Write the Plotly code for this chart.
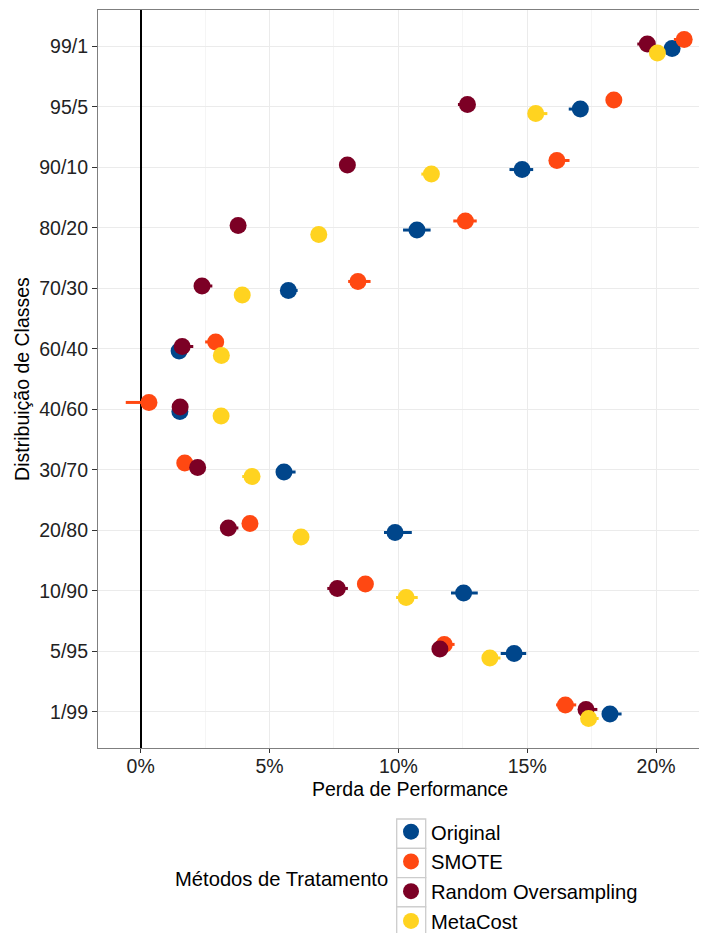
import plotly.graph_objects as go

# ---------------- data ----------------
categories = ["99/1", "95/5", "90/10", "80/20", "70/30", "60/40",
              "40/60", "30/70", "20/80", "10/90", "5/95", "1/99"]
methods = ["Original", "SMOTE", "Random Oversampling", "MetaCost"]

original = [20.62, 17.06, 14.80, 10.72, 5.73, 1.49, 1.52, 5.56, 9.87, 12.53, 14.49, 18.21]
smote = [21.09, 18.36, 16.15, 12.60, 8.43, 2.91, 0.32, 1.71, 4.24, 8.72, 11.78, 16.48]
random_os = [19.66, 12.68, 8.02, 3.78, 2.38, 1.61, 1.53, 2.21, 3.40, 7.63, 11.61, 17.28]
metacost = [20.05, 15.33, 11.28, 6.91, 3.94, 3.13, 3.12, 4.32, 6.22, 10.30, 13.55, 17.38]

original_lo = [0.20, 0.45, 0.49, 0.54, 0.20, 0.20, 0.20, 0.20, 0.43, 0.49, 0.52, 0.20]
original_hi = [0.20, 0.25, 0.43, 0.53, 0.36, 0.20, 0.20, 0.45, 0.65, 0.55, 0.47, 0.45]
smote_lo = [0.40, 0.20, 0.20, 0.47, 0.38, 0.41, 0.90, 0.20, 0.20, 0.20, 0.20, 0.36]
smote_hi = [0.20, 0.20, 0.49, 0.44, 0.49, 0.20, 0.20, 0.20, 0.20, 0.20, 0.40, 0.42]
random_lo = [0.39, 0.37, 0.20, 0.20, 0.20, 0.20, 0.20, 0.20, 0.20, 0.39, 0.20, 0.20]
random_hi = [0.20, 0.20, 0.20, 0.20, 0.40, 0.43, 0.20, 0.20, 0.39, 0.41, 0.20, 0.44]
metacost_lo = [0.20, 0.20, 0.39, 0.20, 0.20, 0.20, 0.20, 0.38, 0.20, 0.39, 0.20, 0.20]
metacost_hi = [0.20, 0.45, 0.20, 0.20, 0.20, 0.20, 0.20, 0.20, 0.20, 0.45, 0.41, 0.39]

x_ticks = [0, 5, 10, 15, 20]

# ---------------- styling ----------------
colors = {"Original": "#00468B", "SMOTE": "#FF4812",
          "Random Oversampling": "#7C0025", "MetaCost": "#FFD320"}
values = {"Original": original, "SMOTE": smote,
          "Random Oversampling": random_os, "MetaCost": metacost}
lows = {"Original": original_lo, "SMOTE": smote_lo,
        "Random Oversampling": random_lo, "MetaCost": metacost_lo}
highs = {"Original": original_hi, "SMOTE": smote_hi,
         "Random Oversampling": random_hi, "MetaCost": metacost_hi}
# dodge order (alphabetical factor levels, first at the bottom)
dodge_rank = {"MetaCost": 0, "Original": 1, "Random Oversampling": 2, "SMOTE": 3}
dodge_step = 0.075

FONT = "Liberation Sans, Arial, Helvetica, sans-serif"
FS = 19.5
FS_LEG = 20.2

OFF = 8  # default page body margin
W, H = 707 - OFF, 933 - OFF
ML, MR, MT, MB = 98 - OFF, 0, 10 - OFF, 185
plot_w = W - ML - MR
plot_h = H - MT - MB


def px_x(p):  # window pixel -> paper x
    return (p - OFF - ML) / plot_w


def px_y(p):  # window pixel -> paper y
    return (H - MB - (p - OFF)) / plot_h


fig = go.Figure()
idx = list(range(len(categories)))
for m in methods:
    off = (1.5 - dodge_rank[m]) * dodge_step
    fig.add_trace(go.Scatter(
        x=values[m],
        y=[i + off for i in idx],
        mode="markers",
        name=m,
        legendgroup=m,
        marker=dict(color=colors[m], size=17, line=dict(width=0)),
        error_x=dict(type="data", symmetric=False, array=highs[m],
                     arrayminus=lows[m], color=colors[m], thickness=3, width=0),
    ))

# legend key boxes
box_top = 819.0
box_h = 29.3
for k in range(len(methods)):
    fig.add_shape(type="rect", xref="paper", yref="paper",
                  x0=px_x(396.7), x1=px_x(425.7),
                  y0=px_y(box_top + k * box_h), y1=px_y(box_top + (k + 1) * box_h),
                  line=dict(color="#CCCCCC", width=1.3), fillcolor="white", layer="below")

fig.add_annotation(text="Métodos de Tratamento", xref="paper", yref="paper",
                   x=px_x(390), y=px_y(879), xanchor="right", yanchor="middle",
                   showarrow=False, font=dict(family=FONT, size=FS_LEG, color="#000000"))
fig.add_annotation(text="Perda de Performance", xref="paper", yref="paper",
                   x=px_x(410), y=px_y(789), xanchor="center", yanchor="middle",
                   showarrow=False, font=dict(family=FONT, size=FS, color="#000000"))

x_per_px = 1 / 25.77
x0_px = 140.7
x_range = [(98 - x0_px) * x_per_px, (707 - x0_px) * x_per_px]

fig.update_layout(
    width=W, height=H,
    margin=dict(l=ML, r=MR, t=MT, b=MB, pad=0, autoexpand=False),
    paper_bgcolor="white", plot_bgcolor="white",
    font=dict(family=FONT, size=FS, color="#000000"),
    showlegend=True,
    legend=dict(x=px_x(391), y=px_y(812), xanchor="left", yanchor="top",
                bgcolor="rgba(0,0,0,0)", font=dict(family=FONT, size=FS_LEG, color="#000000"),
                traceorder="grouped", tracegroupgap=0.5, itemsizing="trace"),
    xaxis=dict(
        range=x_range, tickvals=x_ticks, ticktext=[f"{t}%" for t in x_ticks],
        showgrid=True, gridcolor="#EBEBEB", gridwidth=1.2,
        minor=dict(showgrid=True, gridcolor="#F5F5F5", gridwidth=0.8, tick0=2.5, dtick=5),
        zeroline=True, zerolinecolor="#000000", zerolinewidth=2,
        showline=True, linecolor="#7F7F7F", linewidth=1.2, mirror=True,
        ticks="outside", ticklen=4, tickwidth=1, tickcolor="#333333",
        ticklabelstandoff=-4, automargin=False,
        tickfont=dict(family=FONT, size=FS, color="#222222"),
    ),
    yaxis=dict(
        range=[len(categories) - 1 + 0.6, -0.6],
        tickvals=idx, ticktext=categories,
        showgrid=True, gridcolor="#EBEBEB", gridwidth=1.2,
        zeroline=False, automargin=False,
        showline=True, linecolor="#7F7F7F", linewidth=1.2, mirror=False,
        ticks="outside", ticklen=5, tickwidth=1, tickcolor="#333333",
        tickfont=dict(family=FONT, size=FS, color="#222222"),
        title=dict(text="Distribuição de Classes", standoff=4,
                   font=dict(family=FONT, size=FS, color="#000000")),
    ),
)

fig.write_html("out.html")
